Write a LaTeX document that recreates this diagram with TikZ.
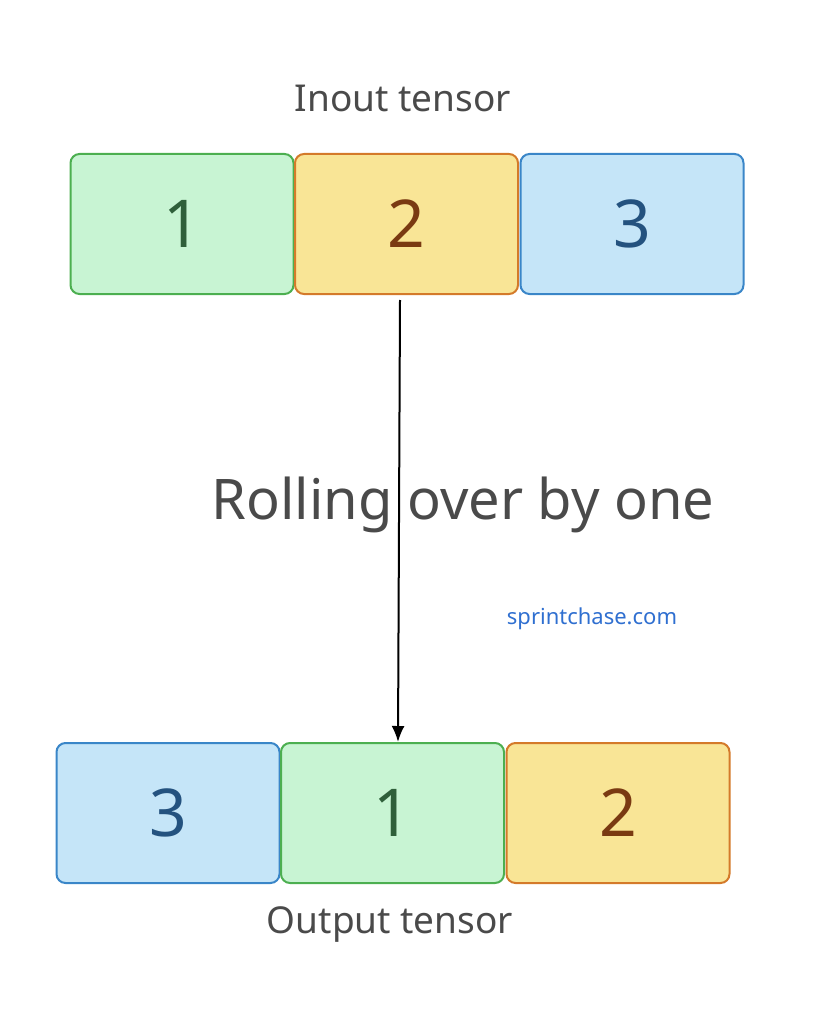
\documentclass[tikz,border=0pt]{standalone}
\usepackage{fontspec}
\setmainfont{Noto Sans}
\usetikzlibrary{arrows.meta}
\definecolor{gf}{HTML}{C8F4D3}\definecolor{gs}{HTML}{4CAF50}\definecolor{gt}{HTML}{2F5F3A}
\definecolor{yf}{HTML}{F9E596}\definecolor{ys}{HTML}{D47A2A}\definecolor{yt}{HTML}{7A3A12}
\definecolor{bf}{HTML}{C5E5F8}\definecolor{bs}{HTML}{3A86C8}\definecolor{bt}{HTML}{24527F}
\definecolor{tx}{HTML}{4A4A4A}\definecolor{lk}{HTML}{2F6FD0}
\begin{document}
\begin{tikzpicture}[x=1pt,y=-1pt,
 cell/.style={draw,line width=2pt,rounded corners=9pt,minimum width=223pt,minimum height=140pt,inner sep=0pt,font=\fontsize{66}{72}\selectfont},
 g/.style={cell,fill=gf,draw=gs,text=gt},
 yb/.style={cell,fill=yf,draw=ys,text=yt},
 bb/.style={cell,fill=bf,draw=bs,text=bt},
 lab/.style={text=tx,font=\fontsize{37}{42}\selectfont}]
\useasboundingbox (0,0) rectangle (814,1024);
\node[g] (a1) at (182,224) {1};
\node[yb] (a2) at (406.5,224) {2};
\node[bb] (a3) at (632,224) {3};
\node[bb] (b1) at (168,813) {3};
\node[g] (b2) at (392.5,813) {1};
\node[yb] (b3) at (618,813) {2};
\node[lab] (t1) at (403,98) {Inout tensor};
\node[lab] (t2) at (390,925) {Output tensor};
\coordinate (s) at (400,300);
\coordinate (e) at (398,742);
\draw[line width=2pt,-{Latex[length=16pt,width=13pt]}] (s) -- (e);
\node[text=tx,font=\fontsize{56}{62}\selectfont] (r) at (463,505) {Rolling over by one};
\node[text=lk,font=\fontsize{22}{26}\selectfont] (w) at (592,619) {sprintchase.com};
\end{tikzpicture}
\end{document}
